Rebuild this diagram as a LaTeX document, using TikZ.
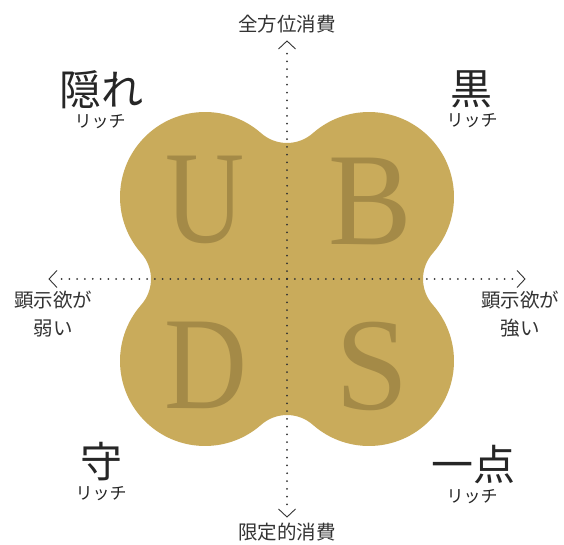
\documentclass[tikz,border=0pt]{standalone}
\usepackage{fontspec}
\setmainfont{Liberation Serif}
\newfontfamily\jpfont{Noto Sans CJK JP}
\definecolor{gold}{HTML}{C9AB5B}
\definecolor{goldtext}{HTML}{A48A47}
\definecolor{dotgray}{HTML}{333333}
\definecolor{labelgray}{HTML}{333333}
\begin{document}
\begin{tikzpicture}[x=1pt,y=1pt,
  axisdots/.style={draw=dotgray, line width=2pt, line cap=round, dash pattern=on 0pt off 7.77pt},
  chev/.style={draw=dotgray, line width=0.9pt},
  biglet/.style={font=\fontsize{132}{132}\selectfont, text=goldtext, anchor=base, inner sep=0pt},
  axlabel/.style={font=\jpfont\fontsize{19.5}{28}\selectfont, text=labelgray, align=center, inner sep=0pt},
  corner/.style={font=\jpfont\fontsize{42}{42}\selectfont, text=black!85, inner sep=0pt},
  rich/.style={font=\jpfont\fontsize{17}{17}\selectfont, text=black!85, inner sep=0pt}]
\useasboundingbox (0,0) rectangle (564,545);
\coordinate (C) at (287,266);
% clover shape
\fill[gold] ([shift={(0,136)}]C)
  arc[start angle=270, end angle=228.6, radius=39]
  arc[start angle=48.6, end angle=221.4, radius=85]
  arc[start angle=41.4, end angle=-41.4, radius=39]
  arc[start angle=138.6, end angle=311.4, radius=85]
  arc[start angle=131.4, end angle=48.6, radius=39]
  arc[start angle=228.6, end angle=401.4, radius=85]
  arc[start angle=221.4, end angle=138.6, radius=39]
  arc[start angle=-41.4, end angle=131.4, radius=85]
  arc[start angle=311.4, end angle=270, radius=39] -- cycle;
% letters
\node[biglet] (U) at (205,302) {\scalebox{0.83}[1]{U}};
\node[biglet] (B) at (370,300) {\scalebox{0.95}[1]{B}};
\node[biglet] (D) at (206,136) {\scalebox{0.87}[1]{D}};
\node[biglet] (S) at (372,135) {S};
% axes
\coordinate (eT) at ([shift={(0,228)}]C);
\coordinate (eB) at ([shift={(0,-228)}]C);
\coordinate (eL) at ([shift={(-228,0)}]C);
\coordinate (eR) at ([shift={(228,0)}]C);
\coordinate (tT) at ([shift={(0,238)}]C);
\coordinate (tB) at ([shift={(0,-238)}]C);
\coordinate (tL) at ([shift={(-238,0)}]C);
\coordinate (tR) at ([shift={(238,0)}]C);
\draw[axisdots] (C) -- (eT);
\draw[axisdots] (C) -- (eB);
\draw[axisdots] (C) -- (eL);
\draw[axisdots] (C) -- (eR);
\draw[chev] ([shift={(-8.5,-8)}]tT) -- (tT) -- ([shift={(8.5,-8)}]tT);
\draw[chev] ([shift={(-8.5,8)}]tB) -- (tB) -- ([shift={(8.5,8)}]tB);
\draw[chev] ([shift={(8,8.5)}]tL) -- (tL) -- ([shift={(8,-8.5)}]tL);
\draw[chev] ([shift={(-8,8.5)}]tR) -- (tR) -- ([shift={(-8,-8.5)}]tR);
% axis labels
\node[axlabel] (top) at (287,521) {全方位消費};
\node[axlabel] (bot) at (287,13) {限定的消費};
\node[axlabel] (lft) at (53,231) {顕示欲が\\弱い};
\node[axlabel] (rgt) at (520,231) {顕示欲が\\強い};
% corner labels
\node[corner] (k1) at (101,455) {隠れ};
\node[rich] (r1) at (100,423) {リッチ};
\node[corner] (k2) at (471,456) {黒};
\node[rich] (r2) at (472,424) {リッチ};
\node[corner] (k3) at (101,83) {守};
\node[rich] (r3) at (101,51) {リッチ};
\node[corner] (k4) at (473,80) {一点};
\node[rich] (r4) at (472,48) {リッチ};
\end{tikzpicture}
\end{document}
